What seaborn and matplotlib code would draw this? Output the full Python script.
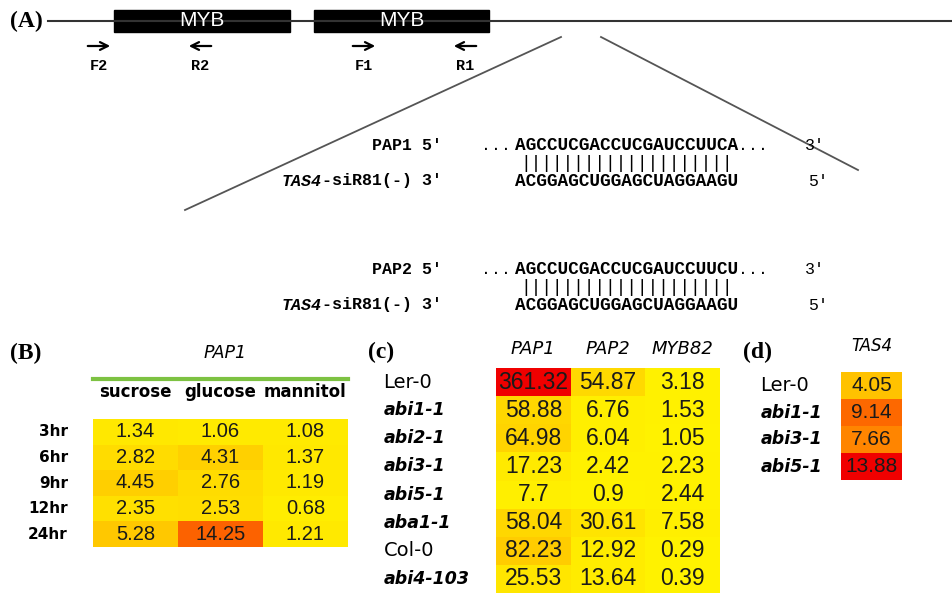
import matplotlib
matplotlib.use("Agg")
import matplotlib.pyplot as plt
import pandas as pd
import seaborn as sns
from matplotlib.colors import LinearSegmentedColormap
from matplotlib.patches import Rectangle

# (B) PAP1 expression after sugar treatment
sugar_times = ["3hr", "6hr", "9hr", "12hr", "24hr"]
sugar_treatments = ["sucrose", "glucose", "mannitol"]
sucrose_vals = [1.34, 2.82, 4.45, 2.35, 5.28]
glucose_vals = [1.06, 4.31, 2.76, 2.53, 14.25]
mannitol_vals = [1.08, 1.37, 1.19, 0.68, 1.21]

# (c) MYB expression in ABA mutants
mutant_lines = ["Ler-0", "abi1-1", "abi2-1", "abi3-1", "abi5-1", "aba1-1", "Col-0", "abi4-103"]
myb_genes = ["PAP1", "PAP2", "MYB82"]
pap1_vals = [361.32, 58.88, 64.98, 17.23, 7.7, 58.04, 82.23, 25.53]
pap2_vals = [54.87, 6.76, 6.04, 2.42, 0.9, 30.61, 12.92, 13.64]
myb82_vals = [3.18, 1.53, 1.05, 2.23, 2.44, 7.58, 0.29, 0.39]

# (d) TAS4 expression
tas4_lines = ["Ler-0", "abi1-1", "abi3-1", "abi5-1"]
tas4_vals = [4.05, 9.14, 7.66, 13.88]

# (A) target site alignment
target_names = ["PAP1", "PAP2"]
target_seqs = ["AGCCUCGACCUCGAUCCUUCA", "AGCCUCGACCUCGAUCCUUCU"]
sirna_seq = "ACGGAGCUGGAGCUAGGAAGU"
primers = ["F2", "R2", "F1", "R1"]

W, H = 953, 599
serif = ["Liberation Serif", "DejaVu Serif"]
mono = ["Liberation Mono", "DejaVu Sans Mono"]
label_font = ["DejaVu Sans"]
heat = LinearSegmentedColormap.from_list(
    "heat", [(0, "#fff200"), (0.3, "#ffc000"), (0.6, "#ff7a00"), (1, "#f00000")])

fig = plt.figure(figsize=(W / 100, H / 100), dpi=100)
base = fig.add_axes([0, 0, 1, 1])
base.set_xlim(0, W)
base.set_ylim(H, 0)
base.axis("off")


def px_axes(x0, y0, x1, y1):
    return fig.add_axes([x0 / W, 1 - y1 / H, (x1 - x0) / W, (y1 - y0) / H])


def style_rows(ax, labels, size):
    ax.set_yticklabels(labels, family=label_font, fontsize=size, rotation=0, ha="left")
    for lab in ax.get_yticklabels():
        if lab.get_text().startswith(("abi", "aba")):
            lab.set_fontstyle("italic")
            lab.set_fontweight("bold")
            lab.set_fontsize(size - 1.5)


# ---- panel A: gene model ----
base.text(10, 21, "(A)", family=serif, fontweight="bold", fontsize=17, va="center")
base.plot([48, W], [21, 21], color="#333333", lw=1.5)
for x0, x1 in [(114, 290), (314, 489)]:
    base.add_patch(Rectangle((x0, 10), x1 - x0, 22, color="black"))
    base.text((x0 + x1) / 2, 21, "MYB", color="white", fontsize=15,
              family=["Liberation Sans"], ha="center", va="center")
primer_x = [99, 200, 364, 465]
for name, x in zip(primers, primer_x):
    d = 1 if name.startswith("F") else -1
    base.annotate("", xy=(x + d * 14, 46), xytext=(x - d * 14, 46),
                  arrowprops=dict(arrowstyle="->", lw=1.6, color="black", mutation_scale=14))
    base.text(x, 66, name, family=mono, fontweight="bold", fontsize=11, ha="center", va="center")

base.plot([561, 185], [37, 210], color="#555555", lw=1.3)
base.plot([601, 858], [37, 170], color="#555555", lw=1.3)

seq_x = 515
for i, (name, seq) in enumerate(zip(target_names, target_seqs)):
    y = 145 + i * 124
    base.text(442, y, name + " 5\u2032", family=mono, fontweight="bold", fontsize=12, ha="right", va="center")
    base.text(seq_x - 4, y, "...", family=mono, fontsize=12, ha="right", va="center")
    st = base.text(seq_x, y, seq, family=mono, fontweight="bold", fontsize=12.8, ha="left", va="center")
    base.annotate("...", xy=(1, 0.5), xycoords=st, family=mono, fontsize=12, va="center")
    base.text(805, y, "3\u2032", family=mono, fontsize=12, va="center")
    base.annotate("|" * (len(sirna_seq) - 1), xy=(0.5, 0.5), xycoords=st, xytext=(0, -13),
                  textcoords="offset points", family=mono, fontsize=12.8, ha="center", va="center")
    rest = base.text(442, y + 36, "-siR81(-) 3\u2032", family=mono, fontweight="bold",
                     fontsize=12, ha="right", va="center")
    base.annotate("TAS4", xy=(0, 0.5), xycoords=rest, family=mono, fontweight="bold",
                  fontstyle="italic", fontsize=12, ha="right", va="center")
    base.text(seq_x, y + 36, sirna_seq, family=mono, fontweight="bold", fontsize=12.8,
              ha="left", va="center")
    base.text(808, y + 36, "5\u2032", family=mono, fontsize=12, va="center")

annot_kws = {"color": "#1a1a1a", "family": ["Liberation Sans", "DejaVu Sans"]}

# ---- panel B ----
base.text(10, 353, "(B)", family=serif, fontweight="bold", fontsize=17, va="center")
base.text(225, 353, "PAP1", family=label_font, fontstyle="italic", fontsize=12.5,
          ha="center", va="center")
base.plot([93, 348], [379, 379], color="#7dc242", lw=3)
sugar_df = pd.DataFrame({"sucrose": sucrose_vals, "glucose": glucose_vals,
                         "mannitol": mannitol_vals}, index=sugar_times)
axB = px_axes(93, 419, 348, 547)
sns.heatmap(sugar_df, ax=axB, cmap=heat, vmin=0, vmax=21, cbar=False, annot=True, fmt="g",
            annot_kws={**annot_kws, "fontsize": 14.5})
axB.xaxis.tick_top()
axB.tick_params(length=0)
axB.tick_params(axis="x", pad=13)
axB.tick_params(axis="y", pad=18)
axB.set_xticklabels(sugar_treatments, family=label_font, fontweight="bold", fontsize=12)
axB.set_yticklabels(sugar_times, family=label_font, fontweight="bold", fontsize=11, rotation=0)
axB.set_xlabel("")
axB.set_ylabel("")

# ---- panel c ----
base.text(368, 352, "(c)", family=serif, fontweight="bold", fontsize=17, va="center")
myb_df = pd.DataFrame({"PAP1": pap1_vals, "PAP2": pap2_vals, "MYB82": myb82_vals},
                      index=mutant_lines)
axC = px_axes(496, 368, 720, 593)
sns.heatmap(myb_df, ax=axC, cmap=heat, vmin=0, vmax=361.32, cbar=False, annot=True, fmt="g",
            annot_kws={**annot_kws, "fontsize": 16.5})
axC.xaxis.tick_top()
axC.tick_params(length=0)
axC.tick_params(axis="x", pad=7)
axC.tick_params(axis="y", pad=81)
axC.set_xticklabels(myb_genes, family=label_font, fontstyle="italic", fontsize=13)
style_rows(axC, mutant_lines, 14)
axC.set_xlabel("")
axC.set_ylabel("")

# ---- panel d ----
base.text(743, 352, "(d)", family=serif, fontweight="bold", fontsize=17, va="center")
tas4_df = pd.DataFrame({"TAS4": tas4_vals}, index=tas4_lines)
axD = px_axes(841, 372, 902, 480)
sns.heatmap(tas4_df, ax=axD, cmap=heat, vmin=0, vmax=13.88, cbar=False, annot=True, fmt="g",
            annot_kws={**annot_kws, "fontsize": 15})
axD.xaxis.tick_top()
axD.tick_params(length=0)
axD.tick_params(axis="x", pad=12)
axD.tick_params(axis="y", pad=58)
axD.set_xticklabels(["TAS4"], family=label_font, fontstyle="italic", fontsize=12)
style_rows(axD, tas4_lines, 14)
axD.set_xlabel("")
axD.set_ylabel("")

fig.savefig("out.png", dpi=100)
